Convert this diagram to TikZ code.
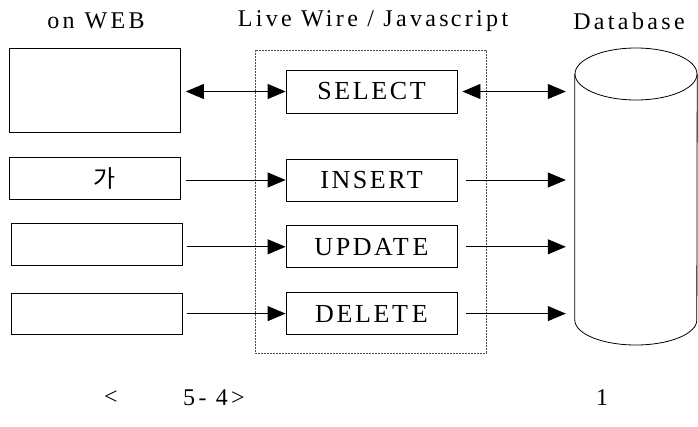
\documentclass[tikz,border=0pt]{standalone}
\usepackage{fontspec}
\setmainfont{Liberation Serif}
\newfontfamily\cjk{Noto Sans CJK KR}
\usetikzlibrary{arrows.meta, positioning}

\begin{document}
\begin{tikzpicture}[
                x=1pt, y=-1pt,
                node distance=24pt,
                head/.style={font=\fontsize{24}{28}\selectfont\addfontfeatures{LetterSpace=14}},
                webbox/.style={rectangle, draw, line width=0.8pt, minimum width=171pt, minimum height=42pt, inner sep=0pt},
                sqlbox/.style={rectangle, draw, line width=0.8pt, minimum width=171pt, minimum height=42pt, inner sep=0pt,
                    font=\fontsize{26}{30}\selectfont\addfontfeatures{LetterSpace=10}},
                frame/.style={rectangle, draw=black!70, line width=0.6pt, dash pattern=on 2pt off 1pt, minimum width=231pt, minimum height=303pt},
                link/.style={line width=0.8pt, -{Triangle[length=18pt, width=15pt]}},
                both/.style={line width=0.8pt, {Triangle[length=18pt, width=15pt]}-{Triangle[length=18pt, width=15pt]}}
            ]
                \useasboundingbox (0,0) rectangle (698,426);

                % Titles
                \node[head] (hweb) at (96,21) {on\hspace{10pt}WEB};
                \node[head] (hlw) at (373,21) {Live W\kern2pt ire / Javas\kern2pt cript};
                \node[head] (hdb) at (629,21) {Database};

                % Web forms
                \node[webbox, minimum height=84pt] (web1) at (95,90) {};
                \node[webbox] (web2) at (95,178) {\hspace*{20pt}\fontsize{24}{28}\cjk 가};
                \node[webbox] (web3) at (96.5,244) {};
                \node[webbox, minimum height=41pt] (web4) at (96.5,313.5) {};

                % Live Wire frame and queries
                \node[frame] (lw) at (370.5,201.5) {};
                \node[sqlbox, minimum height=43pt] (sel) at (371.5,91.5) {SELECT};
                \node[sqlbox] (ins) at (371.5,180) {INSERT};
                \node[sqlbox, below=of ins] (upd) {UPDAT\kern4pt E};
                \node[sqlbox, below=of upd] (del) {DELET\kern4pt E};

                % Database
                \node[minimum width=122pt, minimum height=297pt, inner sep=0pt] (db) at (636,196.5) {};
                \draw[line width=0.8pt] (636,74) ellipse [x radius=61pt, y radius=26pt];
                \draw[line width=0.8pt] (db.west |- 0,74) -- (db.west |- 0,320)
                    arc[start angle=180, end angle=360, x radius=61pt, y radius=25pt] -- (db.east |- 0,74);

                % Connectors
                \draw[both, shorten <=5pt] (sel.west -| web1.east) -- (sel.west);
                \draw[both, shorten <=5pt, shorten >=9pt] (sel.east) -- (sel.east -| db.west);
                \foreach \w/\q in {web2/ins, web3/upd, web4/del} {
                    \draw[link, shorten <=5pt] (\q.west -| \w.east) -- (\q.west);
                    \draw[link, shorten <=9pt, shorten >=9pt] (\q.east) -- (\q.east -| db.west);
                }

                % Caption
                \node[head] (cap1) at (111,398) {<};
                \node[head] (cap2) at (214,398) {5- 4>};
                \node[head] (cap3) at (602,398) {1};
            \end{tikzpicture}
\end{document}
